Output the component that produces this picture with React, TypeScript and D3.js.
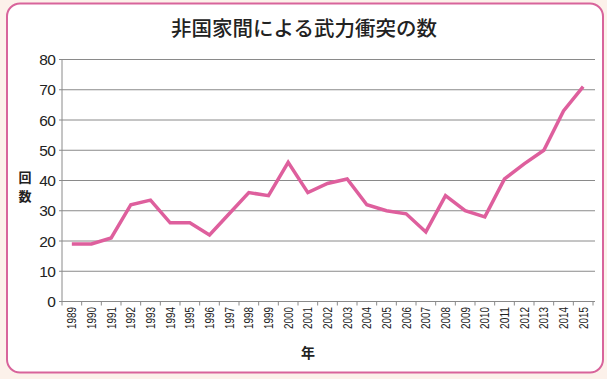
import React from "react";
import * as d3 from "d3";

const years = ["1989","1990","1991","1992","1993","1994","1995","1996","1997","1998","1999","2000","2001","2002","2003","2004","2005","2006","2007","2008","2009","2010","2011","2012","2013","2014","2015"];
const counts = [19,19,21,32,33.5,26,26,22,29,36,35,46,36,39,40.5,32,30,29,23,35,30,28,40.5,45.5,50,63,71];
const yTicks = [0,10,20,30,40,50,60,70,80];
const title = "非国家間による武力衝突の数";
const yLabel = ["回","数"];
const xLabel = "年";

export default function App() {
  const W = 607, H = 379;
  const left = 62, right = 593, top = 59.5, bottom = 301.5;
  const x = d3.scaleBand<string>().domain(years).range([left, right]);
  const y = d3.scaleLinear().domain([0, 80]).range([bottom, top]);
  const line = d3.line<number>()
    .x((_, i) => (x(years[i]) as number) + x.bandwidth() / 2)
    .y((d) => y(d));
  const font = "'Liberation Sans', Arial, sans-serif";
  const cjk = "'Noto Sans CJK JP', sans-serif";
  return (
    <svg width={W} height={H} style={{ position: "absolute", left: 0, top: 0, display: "block" }}>
      <rect x={0} y={0} width={W} height={H} fill="#fcf1ea" />
      <rect x={7} y={3.5} width={596} height={369} rx={13} fill="#ffffff" stroke="#d8649b" strokeWidth={2} />
      <text x={304} y={36} textAnchor="middle" fontFamily={cjk} fontSize={20.5} fontWeight={500} fill="#222">{title}</text>
      {yTicks.map((t) => (
        <g key={t}>
          <line x1={left - 3} x2={595} y1={y(t)} y2={y(t)} stroke="#8a8a8a" strokeWidth={1} />
          <text x={55} y={y(t) + 5.5} textAnchor="end" fontFamily={font} fontSize={15.5} letterSpacing={-0.8} fill="#222">{t}</text>
        </g>
      ))}
      <line x1={left} x2={left} y1={top} y2={bottom + 4} stroke="#8a8a8a" strokeWidth={1} />
      {years.map((yr) => (
        <line key={"tk" + yr} x1={(x(yr) as number) + x.bandwidth()} x2={(x(yr) as number) + x.bandwidth()} y1={bottom} y2={bottom + 4} stroke="#8a8a8a" strokeWidth={1} />
      ))}
      {years.map((yr) => {
        const cx = (x(yr) as number) + x.bandwidth() / 2 + 4.5;
        return (
          <text key={yr} transform={`translate(${cx},${307}) rotate(-90)`} textAnchor="end" fontFamily={font} fontSize={12.5} textLength={22} lengthAdjust="spacingAndGlyphs" fill="#222">{yr}</text>
        );
      })}
      <path d={line(counts) as string} fill="none" stroke="#de5f9d" strokeWidth={3.5} strokeLinejoin="miter" strokeLinecap="butt" />
      {yLabel.map((c, i) => (
        <text key={c} x={25} y={182 + i * 19} textAnchor="middle" fontFamily={cjk} fontSize={13} fontWeight={700} fill="#222">{c}</text>
      ))}
      <text x={308} y={358} textAnchor="middle" fontFamily={cjk} fontSize={14} fontWeight={700} fill="#222">{xLabel}</text>
    </svg>
  );
}
